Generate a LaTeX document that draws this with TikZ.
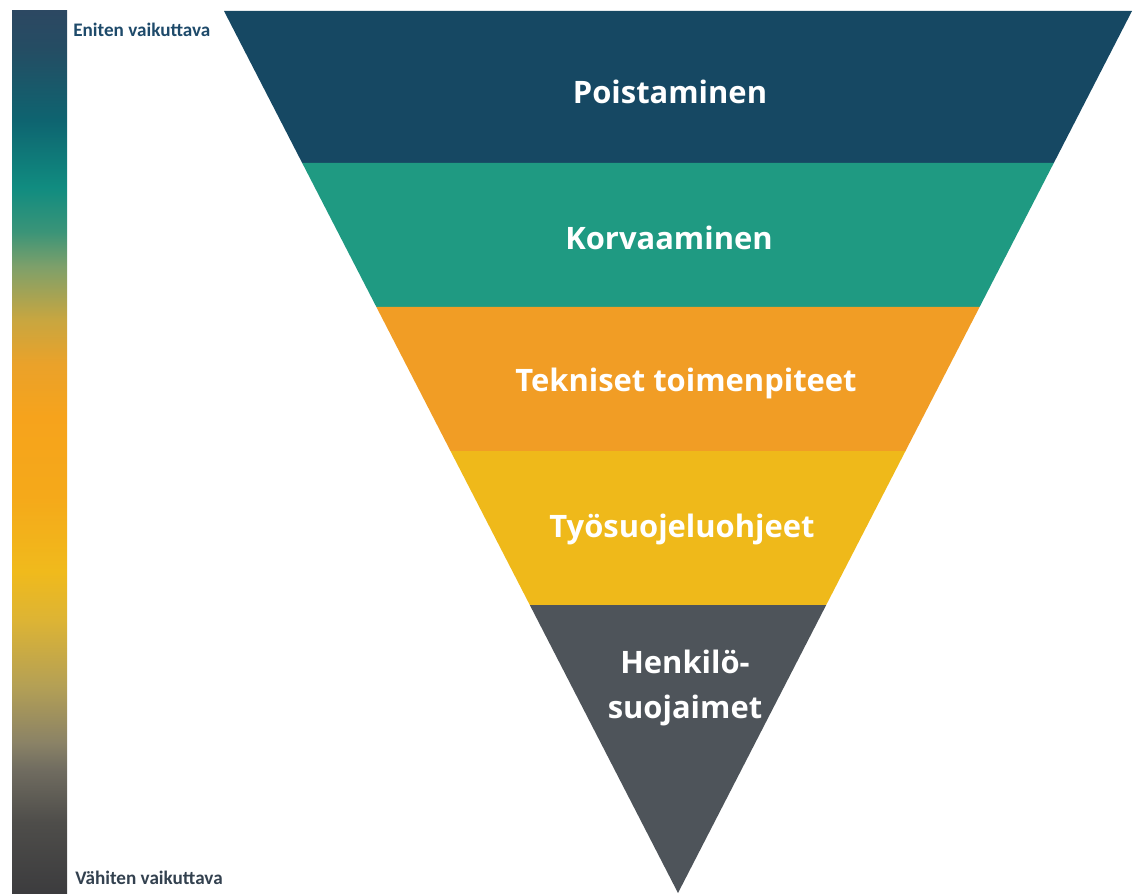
\documentclass[tikz,border=0pt]{standalone}
\usepackage{fontspec}
\setmainfont{Open Sans}
\newfontfamily\sidefont{Carlito}
\usepackage{xcolor}
\usepackage{tikz}
\usetikzlibrary{positioning, calc}

% band colours
\definecolor{bandnavy}{HTML}{164863}
\definecolor{bandteal}{HTML}{1F9A82}
\definecolor{bandorange}{HTML}{F19D25}
\definecolor{bandyellow}{HTML}{EFB91A}
\definecolor{bandgray}{HTML}{4E545A}
\definecolor{toplabel}{HTML}{1E4A6A}
\definecolor{botlabel}{HTML}{33414F}

% colour scale for the side bar (bottom to top)
\definecolor{sb0}{HTML}{3C3C3E}
\definecolor{sb1}{HTML}{4E4D4A}
\definecolor{sb2}{HTML}{706C60}
\definecolor{sb3}{HTML}{8A8266}
\definecolor{sb4}{HTML}{B4A055}
\definecolor{sb5}{HTML}{DDB434}
\definecolor{sb6}{HTML}{F0BA1C}
\definecolor{sb7}{HTML}{F5A91A}
\definecolor{sb8}{HTML}{F6A31C}
\definecolor{sb9}{HTML}{EAA22A}
\definecolor{sb10}{HTML}{C8A640}
\definecolor{sb11}{HTML}{7EA06A}
\definecolor{sb12}{HTML}{3A9478}
\definecolor{sb13}{HTML}{108C80}
\definecolor{sb14}{HTML}{0E6470}
\definecolor{sb15}{HTML}{254C63}
\definecolor{sb16}{HTML}{2C4862}
% tikz maps the path onto 25bp..75bp of the shading
\pgfdeclareverticalshading{effectbar}{100bp}{%
  color(0bp)=(sb0); color(25bp)=(sb0); color(29bp)=(sb1); color(32bp)=(sb2);
  color(33.5bp)=(sb3); color(36.75bp)=(sb4); color(40.5bp)=(sb5); color(43.25bp)=(sb6);
  color(47.5bp)=(sb7); color(52bp)=(sb8); color(55bp)=(sb9); color(57.5bp)=(sb10);
  color(60.5bp)=(sb11); color(62.5bp)=(sb12); color(65bp)=(sb13); color(68.8bp)=(sb14);
  color(73bp)=(sb15); color(75bp)=(sb16); color(100bp)=(sb16)}

\begin{document}
\begin{tikzpicture}[
    x=0.02cm, y=-0.02cm,
    bandtext/.style={text=white, font=\fontsize{17.6}{25.5}\selectfont\bfseries, align=center},
    sidetext/.style={font=\sidefont\fontsize{10.9}{12}\selectfont\bfseries, anchor=west, inner sep=0pt}
]
\useasboundingbox (0,0) rectangle (1133,895);

% Side bar
\shade[shading=effectbar] (12,11) rectangle (67,893);
\node[sidetext, text=toplabel] (most) at (73,30) {Eniten vaikuttava};
\node[sidetext, text=botlabel] (least) at (75,878) {Vähiten vaikuttava};

% Funnel corners
\coordinate (tl) at (224,11);
\coordinate (tr) at (1132,11);
\coordinate (apex) at (678,893);

% Bands
\fill[bandnavy] (tl) -- (tr) -- (1053.8,163) -- (302.2,163) -- cycle;
\fill[bandteal] (302.2,163) -- (1053.8,163) -- (979.6,307) -- (376.4,307) -- cycle;
\fill[bandorange] (376.4,307) -- (979.6,307) -- (905.5,451) -- (450.5,451) -- cycle;
\fill[bandyellow] (450.5,451) -- (905.5,451) -- (826.2,605) -- (529.8,605) -- cycle;
\fill[bandgray] (529.8,605) -- (826.2,605) -- (apex) -- cycle;

% Band labels
\node[bandtext] (elim) at (670,92) {Poistaminen};
\node[bandtext] (subst) at (669,238) {Korvaaminen};
\node[bandtext] (tech) at (686,383) {Tekniset toimenpiteet};
\node[bandtext] (rules) at (682,529) {Työsuojeluohjeet};
\node[bandtext] (ppe) at (685,688) {Henkilö-\\suojaimet};

\end{tikzpicture}
\end{document}
